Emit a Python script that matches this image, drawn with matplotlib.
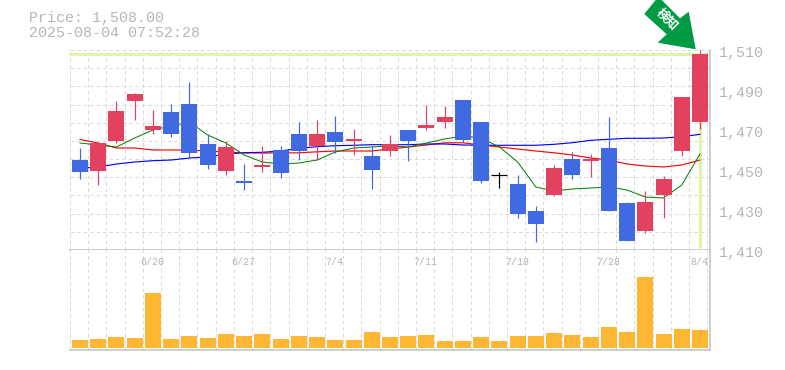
import numpy as np
import matplotlib
matplotlib.use("Agg")
import matplotlib.pyplot as plt
from matplotlib.patches import Polygon
from matplotlib.transforms import ScaledTranslation

W, H, DPI = 785, 370, 100

opens = [1455,1449.5,1464.5,1484.5,1470,1479,1483,1463,1449.5,1444.5,1451.5,1460,1468,1462,1469,1464.5,1457,1459.5,1470,1471,1474,1485,1474,1447.5,1443,1429.5,1437.5,1455.5,1454.5,1461,1433.5,1419.5,1437.5,1459.5,1474]
closes = [1449,1463.5,1479.5,1488,1472,1468,1458.5,1452.5,1461.5,1443.5,1452.5,1448.5,1459.5,1468,1464,1465.5,1450,1463,1464.5,1472.5,1476.5,1465,1444.5,1447.5,1428,1423,1451,1447.5,1455.5,1429.5,1414.5,1434,1445.5,1486.5,1508]
highs = [1461,1463.5,1484.5,1488.5,1480,1483,1494,1468,1464.5,1453,1462,1462,1474,1475,1477,1470.5,1462,1467.5,1470,1482.5,1482,1485,1474,1449,1447.5,1432,1452.5,1459,1458,1476.5,1434,1439.5,1447,1486.5,1510]
lows = [1445.5,1442.5,1463.5,1475,1468,1466.5,1456,1450.5,1447.5,1440,1449,1446,1455,1455,1458.5,1457.5,1440.5,1457,1454.5,1470,1471,1464,1443.5,1441,1426,1414,1437,1445.5,1446.5,1429.5,1414.5,1418.5,1426,1457,1470.5]
ma_short = [1463.5,1462.5,1461.5,1466,1470,1472,1474,1467.5,1463.5,1457.5,1454,1453,1453.5,1455,1459,1461,1461.5,1462,1461.5,1463.5,1465.5,1467,1466,1461.5,1454,1441.5,1439.5,1440.5,1441,1441.5,1440,1436.5,1436,1442.5,1458]
ma_mid = [1465.25,1463.5,1461,1461,1460,1460,1460,1459.5,1459,1458.5,1458.5,1458.5,1458.6,1459.1,1459.5,1459.5,1459.5,1460.5,1461.5,1462.5,1463.6,1463.6,1462.5,1461.5,1460.5,1459.5,1458.6,1457.5,1456,1455,1453,1452,1451.5,1452.5,1455]
ma_long = [1450.85,1451.5,1453,1454,1454.65,1455,1456,1456.5,1458,1458.65,1458.85,1459.5,1460.85,1461.65,1462.15,1462.35,1462.65,1462.65,1462.65,1463,1463,1462.5,1462.35,1462.35,1462.35,1462.35,1462.85,1463.65,1464.85,1465.35,1465.85,1465.85,1466,1466.65,1467.85]
volume = [8,9,11,10,55,9,12,10,14,12,14,9,12,11,8,8,16,11,12,13,7,7,11,7,12,12,15,13,11,21,16,71,14,19,18]
date_idx = [4,9,14,19,24,29,34]
date_labels = ["6/20","6/27","7/4","7/11","7/18","7/28","8/4"]
price_ticks = [1410,1430,1450,1470,1490,1510]
price_labels = ["1,410","1,430","1,450","1,470","1,490","1,510"]
last_price = 1508
title_lines = ["Price: 1,508.00","2025-08-04 07:52:28"]
badge_text = "検知"

BLUE, RED, BLACK = "#4169E1", "#E2425F", "#000000"
GRID, BORDER, TEXT = "#DADADA", "#C0C0C0", "#B6B6B6"
HILITE, ORANGE, ARROW = "#DFF4A6", "#FFB733", "#009944"
MONO = "Liberation Mono"
px = 72 / DPI
DASH = (0, (3.5, 3))

fig = plt.figure(figsize=(W/DPI, H/DPI), dpi=DPI, facecolor="white")
L, R = 70/W, 710/W
ax = fig.add_axes([L, 1-250/H, R-L, 200/H])
vx = fig.add_axes([L, 1-350/H, R-L, 100/H], sharex=ax)

n = len(opens)
x = np.arange(n)
half = 0.548
ax.set_xlim(-half, n-1+half)
ax.set_ylim(1410, 1510)
vx.set_ylim(-2, 98)
grid_x = np.arange(-half, n-1+half, 0.9985)
grid_y = np.linspace(1410, 1510, 12)

for a in (ax, vx):
    a.set_xticks([])
    a.set_xticks(grid_x, minor=True)
    a.grid(True, which="minor", axis="x", color=GRID, lw=px, ls=DASH, zorder=0)
    a.tick_params(which="both", length=0)
    a.tick_params(axis="x", labelbottom=False)
    a.set_axisbelow(True)
    a.spines["top"].set_visible(False)
    a.spines["left"].set_visible(False)
    for s in ("right", "bottom"):
        a.spines[s].set_color(BORDER)
        a.spines[s].set_linewidth(1.5*px)
    a.axvline(-half, color=GRID, lw=px, ls=DASH, zorder=0, clip_on=False)

ax.set_yticks(grid_y, minor=True)
ax.grid(True, which="minor", axis="y", color=GRID, lw=px, ls=DASH, zorder=0)
ax.axhline(1510, color=GRID, lw=px, ls=DASH, zorder=0, clip_on=False)
ax.set_yticks(price_ticks)
ax.set_yticklabels(price_labels, fontfamily=MONO, fontsize=15*px, color=TEXT)
ax.yaxis.tick_right()
ax.tick_params(axis="y", which="both", length=0, pad=6.5, right=False, left=False)
off = ScaledTranslation(0, -2/DPI, fig.dpi_scale_trans)
for t in ax.yaxis.get_major_ticks():
    t.label2.set_transform(t.label2.get_transform() + off)
vx.set_yticks([])

# last-price highlight
ax.axhline(last_price, color=HILITE, lw=2.8*px, zorder=1, clip_on=False, xmax=0.997)
ax.plot([x[-1], x[-1]], [1411, last_price], color=HILITE, lw=3*px, zorder=1, solid_capstyle="butt")

# moving averages under candles
ax.plot(x, ma_mid, color="#FF0000", lw=1.15*px, zorder=2)
ax.plot(x, ma_long, color="#0000FF", lw=1.15*px, zorder=2)
ax.plot(x, ma_short, color="#008000", lw=1.0*px, zorder=2)

# candles
for i in range(n):
    o, c = opens[i], closes[i]
    col = BLACK if o == c else (RED if c > o else BLUE)
    ax.vlines(x[i], lows[i], highs[i], color=col, lw=1.2*px, zorder=3, clip_on=False)
    if o == c:
        ax.hlines(o, x[i]-0.44, x[i]+0.44, color=col, lw=1.2*px, zorder=3)
    else:
        ax.bar(x[i], abs(c-o), bottom=min(o, c), width=0.877, color=col, lw=0, zorder=3)

# volume
vx.bar(x, volume, width=0.877, color=ORANGE, lw=0, zorder=3)
tr = vx.get_xaxis_transform()
for i, lab in zip(date_idx, date_labels):
    vx.text(i-0.05, 0.88, lab, transform=tr, ha="center", va="center",
            fontfamily=MONO, fontsize=10*px, color=TEXT, zorder=4)

# heading
for y0, s in zip((18, 33), title_lines):
    fig.text(29/W, 1-y0/H, s, ha="left", va="center", fontfamily=MONO, fontsize=15*px, color=TEXT)

# badge arrow
ov = fig.add_axes([0, 0, 1, 1], facecolor="none")
ov.set_xlim(0, W); ov.set_ylim(H, 0); ov.axis("off")
ov.add_patch(Polygon([(644.3,14),(655.7,0),(661.7,0),(680,18.3),(688.7,11.7),(695.7,49.3),(657.7,42.7),(666.7,34.3)],
                     closed=True, fc=ARROW, ec="none", zorder=5))
ov.text(667, 19, badge_text, rotation=-45, rotation_mode="anchor", ha="center", va="center",
        color="white", fontsize=12.5*px, fontweight="bold", family="Noto Sans CJK JP", zorder=6)

fig.savefig("out.png", dpi=DPI)
